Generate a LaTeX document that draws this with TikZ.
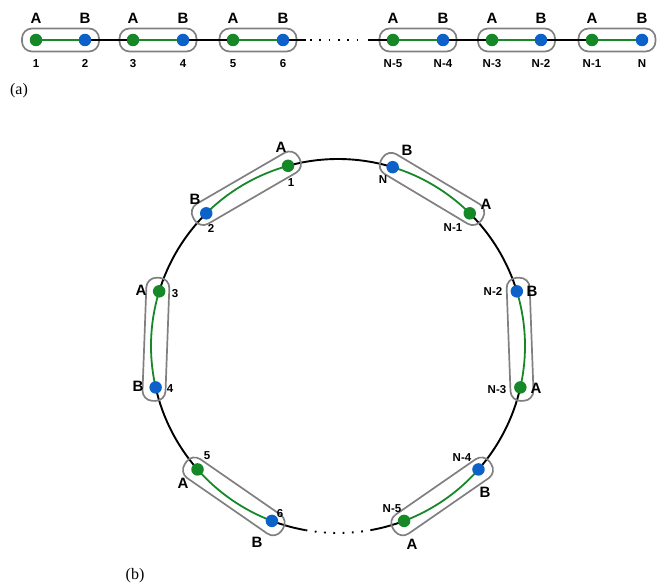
\documentclass[tikz,border=0pt]{standalone}
\usepackage{fontspec}
\setmainfont{Liberation Serif}
\setsansfont{Liberation Sans}
\usetikzlibrary{backgrounds}
\definecolor{cgreen}{RGB}{22,136,40}
\definecolor{cblue}{RGB}{12,98,200}
\definecolor{cgray}{RGB}{128,128,128}
\newcommand\Rr{187}
\newcommand\ringbox[3]{%
  \pgfmathsetmacro\rbm{(#2+#3)/2}%
  \pgfmathsetmacro\rbd{abs(#3-#2)/2}%
  \pgfmathsetmacro\rbL{2*\Rr*sin(\rbd)+27}%
  \pgfmathsetmacro\rbr{\Rr*cos(\rbd)+1.5}%
  \pgfmathsetmacro\rbrot{\rbm+90}%
  \node[pairbox, minimum width=\rbL pt, rotate=\rbrot] (#1) at ([shift={(\rbm:\rbr)}]O) {};%
}
\begin{document}
\begin{tikzpicture}[x=1pt,y=1pt,
  gdot/.style={circle, fill=cgreen, minimum size=12.5pt, inner sep=0pt},
  bdot/.style={circle, fill=cblue, minimum size=12.5pt, inner sep=0pt},
  pairbox/.style={rectangle, draw=cgray, line width=1.7pt, rounded corners=10pt, minimum height=23pt, inner sep=0pt},
  blk/.style={line width=1.9pt, black},
  dotline/.style={line width=1.9pt, black, dash pattern=on 1.8pt off 7.5pt},
  grn/.style={line width=1.8pt, cgreen},
  lbl/.style={font=\sffamily\bfseries\fontsize{15}{15}\selectfont, inner sep=0pt, text height=10.8pt, text depth=0pt},
  num/.style={font=\sffamily\bfseries\fontsize{11.5}{11.5}\selectfont, inner sep=0pt, text height=8.3pt, text depth=0pt},
  captext/.style={font=\rmfamily\fontsize{16}{16}\selectfont, inner sep=0pt}]
\useasboundingbox (0,0) rectangle (657,587);

% ---------------- (a) linear chain ----------------
\foreach \xa/\xb/\na/\nb/\k in {36/85/1/2/1, 133/183/3/4/2, 233/283/5/6/3, 393/443/N-5/N-4/4, 492/541/N-3/N-2/5, 592/642/N-1/N/6}{
  \node[pairbox, minimum width=77pt] (tbox\k) at ({(\xa+\xb)/2},547) {};
  \node[gdot] (ta\k) at (\xa,547) {};
  \node[bdot] (tb\k) at (\xb,547) {};
  \draw[grn] (ta\k) -- (tb\k);
  \node[lbl] (tla\k) at (\xa,569) {A};
  \node[lbl] (tlb\k) at (\xb,569) {B};
  \node[num] (tna\k) at (\xa,524) {\na};
  \node[num] (tnb\k) at (\xb,524) {\nb};
}
\coordinate (tdl) at (306,547);
\coordinate (tdr) at (368,547);
\draw[blk] (tb1) -- (ta2);
\draw[blk] (tb2) -- (ta3);
\draw[blk] (tb3) -- (tdl);
\draw[dotline] (tdl) ++(4,0) -- ([xshift=-3pt]tdr);
\draw[blk] (tdr) -- (ta4);
\draw[blk] (tb4) -- (ta5);
\draw[blk] (tb5) -- (ta6);
\node[captext] (capa) at (19,496) {(a)};

% ---------------- (b) ring ----------------
\coordinate (O) at (338,241);
\ringbox{rb1}{105.5}{134.8}
\ringbox{rb2}{163}{192.8}
\ringbox{rb3}{221.3}{249.3}
\ringbox{rb4}{290.7}{318.7}
\ringbox{rb5}{347.2}{377}
\ringbox{rb6}{45.2}{73}

\node[gdot] (r1) at ([shift={(105.5:\Rr)}]O) {};
\node[bdot] (r2) at ([shift={(134.8:\Rr)}]O) {};
\node[gdot] (r3) at ([shift={(163:\Rr)}]O) {};
\node[bdot] (r4) at ([shift={(192.8:\Rr)}]O) {};
\node[gdot] (r5) at ([shift={(221.3:\Rr)}]O) {};
\node[bdot] (r6) at ([shift={(249.3:\Rr)}]O) {};
\node[gdot] (rN5) at ([shift={(290.7:\Rr)}]O) {};
\node[bdot] (rN4) at ([shift={(318.7:\Rr)}]O) {};
\node[gdot] (rN3) at ([shift={(347.2:\Rr)}]O) {};
\node[bdot] (rN2) at ([shift={(17:\Rr)}]O) {};
\node[gdot] (rN1) at ([shift={(45.2:\Rr)}]O) {};
\node[bdot] (rN) at ([shift={(73:\Rr)}]O) {};

\begin{pgfonlayer}{background}
  % green bonds inside the boxes
  \draw[grn] (r1.center) arc[start angle=105.5, end angle=134.8, radius=\Rr];
  \draw[grn] (r3.center) arc[start angle=163, end angle=192.8, radius=\Rr];
  \draw[grn] (r5.center) arc[start angle=221.3, end angle=249.3, radius=\Rr];
  \draw[grn] (rN5.center) arc[start angle=290.7, end angle=318.7, radius=\Rr];
  \draw[grn] (rN3.center) arc[start angle=347.2, end angle=377, radius=\Rr];
  \draw[grn] (rN1.center) arc[start angle=45.2, end angle=73, radius=\Rr];
  % black links between the boxes
  \draw[blk] (rN.center) arc[start angle=73, end angle=105.5, radius=\Rr];
  \draw[blk] (r2.center) arc[start angle=134.8, end angle=163, radius=\Rr];
  \draw[blk] (r4.center) arc[start angle=192.8, end angle=221.3, radius=\Rr];
  \draw[blk] (r6.center) arc[start angle=249.3, end angle=260, radius=\Rr] coordinate (rd1);
  \draw[dotline] (rd1) arc[start angle=260, end angle=280, radius=\Rr] coordinate (rd2);
  \draw[blk] (rd2) arc[start angle=280, end angle=290.7, radius=\Rr];
  \draw[blk] (rN4.center) arc[start angle=318.7, end angle=347.2, radius=\Rr];
  \draw[blk] (rN2.center) arc[start angle=17, end angle=45.2, radius=\Rr];
\end{pgfonlayer}

% labels
\node[lbl] (la1) at (281,440) {A};   \node[num] (ln1) at (291,405) {1};
\node[lbl] (lb2) at (195,388) {B};   \node[num] (ln2) at (211,359) {2};
\node[lbl] (la3) at (141,297) {A};   \node[num] (ln3) at (175,294) {3};
\node[lbl] (lb4) at (138,201) {B};   \node[num] (ln4) at (170,199) {4};
\node[lbl] (la5) at (183,104) {A};   \node[num] (ln5) at (207,132) {5};
\node[lbl] (lb6) at (257,45) {B};    \node[num] (ln6) at (280,74) {6};
\node[lbl] (laN5) at (412,43) {A};   \node[num] (lnN5) at (392,79) {N-5};
\node[lbl] (lbN4) at (485,95) {B};   \node[num] (lnN4) at (462,130) {N-4};
\node[lbl] (laN3) at (536,199) {A};  \node[num] (lnN3) at (497,198) {N-3};
\node[lbl] (lbN2) at (532,296) {B};  \node[num] (lnN2) at (493,296) {N-2};
\node[lbl] (laN1) at (486,383) {A};  \node[num] (lnN1) at (453,360) {N-1};
\node[lbl] (lbN) at (407,437) {B};   \node[num] (lnN) at (383,408) {N};
\node[captext] (capb) at (135,11) {(b)};
\end{tikzpicture}
\end{document}
